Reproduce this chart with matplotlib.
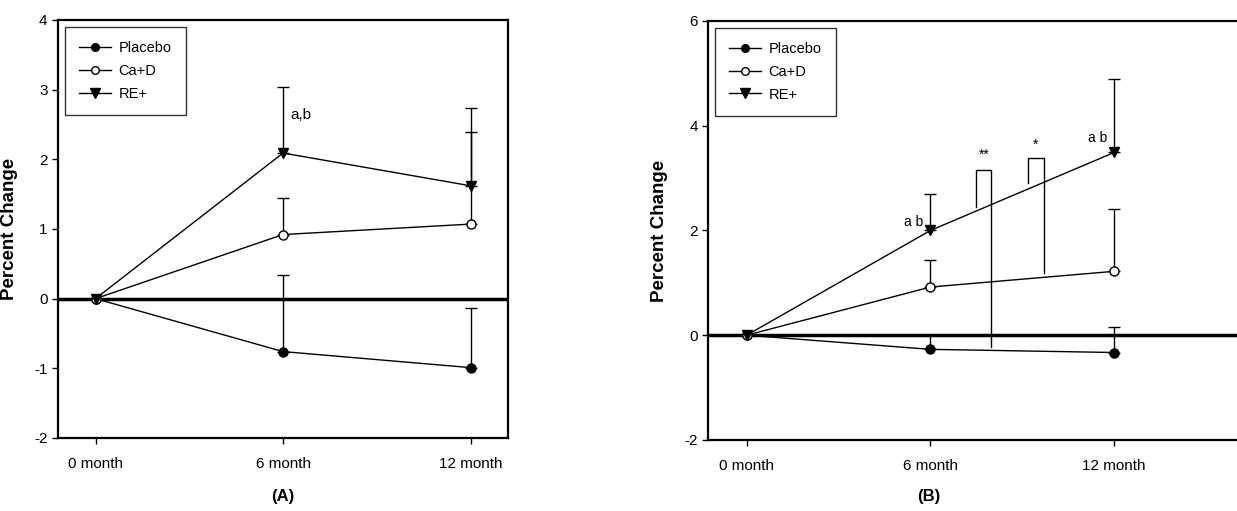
import matplotlib.pyplot as plt
from matplotlib.lines import Line2D
import numpy as np

plt.rcParams['font.family'] = ['Liberation Sans Narrow', 'Liberation Sans', 'DejaVu Sans']
plt.rcParams['axes.unicode_minus'] = False

months = ["0 month", "6 month", "12 month"]
xpos = [0, 1, 2]
groups = ["Placebo", "Ca+D", "RE+"]

# panel A: means and upper error-bar ends
a_placebo = [0, -0.76, -0.99]
a_placebo_top = [0, 0.34, -0.14]
a_cad = [0, 0.92, 1.07]
a_cad_top = [0, 1.45, 2.39]
a_re = [0, 2.09, 1.62]
a_re_top = [0, 3.04, 2.74]

# panel B
b_placebo = [0, -0.27, -0.33]
b_placebo_top = [0, 0.0, 0.16]
b_cad = [0, 0.92, 1.22]
b_cad_top = [0, 1.43, 2.41]
b_re = [0, 2.0, 3.49]
b_re_top = [0, 2.69, 4.9]

# significance brackets in B (x left, x right, y left bottom, y top, y right bottom)
bracket_dd = [1.25, 1.332, 2.45, 3.16, -0.22]
bracket_d = [1.531, 1.616, 2.91, 3.38, 1.18]

styles = {
    "Placebo": dict(marker="o", mfc="black", markersize=6.5),
    "Ca+D": dict(marker="o", mfc="white", markersize=6.5),
    "RE+": dict(marker="v", mfc="black", markersize=7),
}
leg_sizes = {"Placebo": 5.5, "Ca+D": 5.5, "RE+": 6.5}

bold = dict(fontweight="bold", family=["Liberation Sans", "DejaVu Sans"])

fig = plt.figure(figsize=(12.37, 5.11), dpi=100)
axA = fig.add_axes([0.0469, 0.1429, 0.3638, 0.818])
axB = fig.add_axes([0.5724, 0.139, 0.4276, 0.82])


def draw(ax, series, label_x):
    handles = []
    for name, mean, top in series:
        mean = np.array(mean)
        top = np.array(top)
        up = np.clip(top - mean, 0, None)
        ax.errorbar(xpos, mean, yerr=[np.zeros_like(up), up], color="black",
                    lw=1, elinewidth=1, capsize=4, capthick=1,
                    mec="black", mew=1, **styles[name])
        st = dict(styles[name], markersize=leg_sizes[name])
        handles.append(Line2D([], [], color="black", lw=1, mec="black", mew=1,
                              label=name, **st))
    ax.axhline(0, color="black", lw=2.5, zorder=1)
    ax.set_xticks(xpos)
    ax.set_xticklabels(months)
    ax.tick_params(axis="both", direction="out", length=4, width=1, labelsize=11)
    ax.tick_params(axis="x", pad=10)
    for s in ax.spines.values():
        s.set_linewidth(1.6)
    ax.set_ylabel("Percent Change", fontsize=13.5, **bold)
    ax.yaxis.set_label_coords(label_x, 0.5)
    leg = ax.legend(handles=handles, loc="upper left", fontsize=10.5, frameon=True,
                    fancybox=False, edgecolor="black", handlelength=2.2,
                    borderpad=1.0, labelspacing=0.6, borderaxespad=0.45,
                    handletextpad=0.5)
    leg.get_frame().set_linewidth(1)


draw(axA, [("Placebo", a_placebo, a_placebo_top),
           ("Ca+D", a_cad, a_cad_top),
           ("RE+", a_re, a_re_top)], -0.088)
axA.set_xlim(-0.2, 2.2)
axA.set_ylim(-2, 4)
axA.set_yticks(range(-2, 5))
axA.text(1.04, 2.64, "a,b", fontsize=11, ha="left", va="center")

draw(axB, [("Placebo", b_placebo, b_placebo_top),
           ("Ca+D", b_cad, b_cad_top),
           ("RE+", b_re, b_re_top)], -0.076)
axB.set_xlim(-0.21, 2.668)
axB.set_ylim(-2, 6)
axB.set_yticks(range(-2, 7, 2))
axB.spines["right"].set_visible(False)
for br in (bracket_dd, bracket_d):
    axB.plot([br[0], br[0], br[1], br[1]], [br[2], br[3], br[3], br[4]],
             color="black", lw=1)
axB.text(1.29, 3.44, "**", fontsize=10, ha="center", va="center")
axB.text(1.573, 3.64, "*", fontsize=10, ha="center", va="center")
axB.text(0.96, 2.17, "a b", fontsize=10, ha="right", va="center")
axB.text(1.96, 3.76, "a b", fontsize=10, ha="right", va="center")

fig.text(283 / 1237, 1 - 496 / 511, "(A)", ha="center", va="center", fontsize=12, **bold)
fig.text(929 / 1237, 1 - 496 / 511, "(B)", ha="center", va="center", fontsize=12, **bold)

fig.savefig("out.png", dpi=100)
